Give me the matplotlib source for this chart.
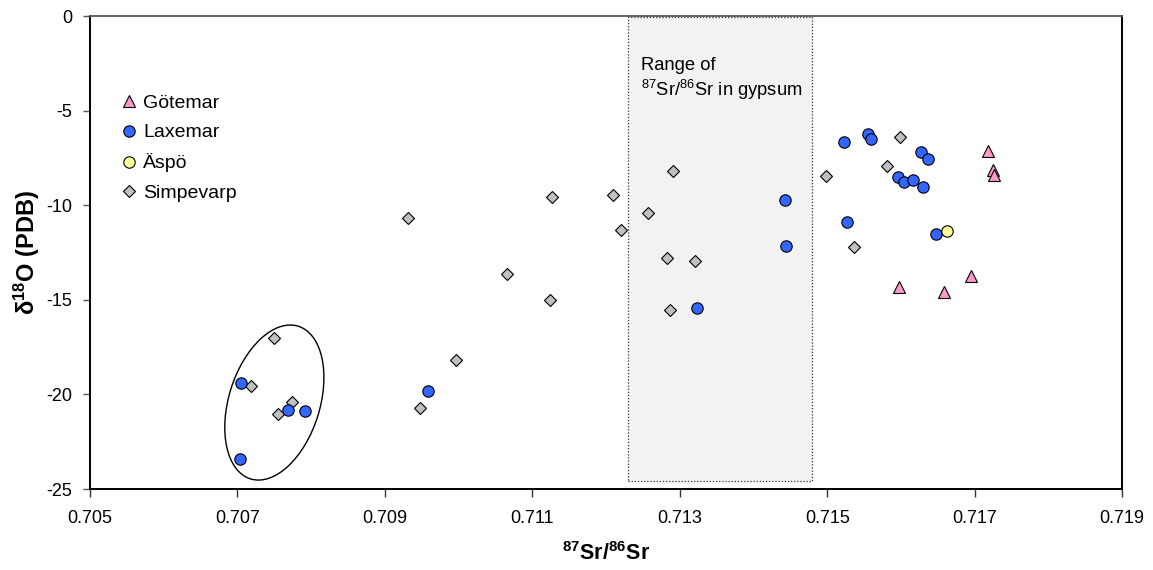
import matplotlib
matplotlib.use("Agg")
import matplotlib.pyplot as plt
import matplotlib.transforms as mtransforms
from matplotlib.patches import Ellipse, Rectangle
from matplotlib.ticker import FormatStrFormatter

plt.rcParams["font.family"] = ["Liberation Sans", "DejaVu Sans"]
plt.rcParams["mathtext.fontset"] = "custom"
plt.rcParams["mathtext.rm"] = "Liberation Sans"
plt.rcParams["mathtext.bf"] = "Liberation Sans:bold"
plt.rcParams["mathtext.it"] = "Liberation Sans:italic"
plt.rcParams["mathtext.default"] = "regular"
plt.rcParams["axes.unicode_minus"] = False

# data
gotemar_x = [0.71718, 0.71725, 0.71726, 0.71695, 0.71598, 0.71659]
gotemar_y = [-7.14, -8.14, -8.40, -13.73, -14.34, -14.60]

laxemar_x = [0.70705, 0.70768, 0.70791, 0.70704, 0.70958, 0.71324, 0.71443,
             0.71444, 0.71523, 0.71527, 0.71555, 0.71560, 0.71627, 0.71637,
             0.71596, 0.71604, 0.71616, 0.71630, 0.71647]
laxemar_y = [-19.38, -20.84, -20.90, -23.40, -19.82, -15.45, -9.73,
             -12.16, -6.67, -10.89, -6.24, -6.50, -7.21, -7.58,
             -8.51, -8.79, -8.69, -9.05, -11.50]

aspo_x = [0.71663]
aspo_y = [-11.38]

simpevarp_x = [0.70750, 0.70719, 0.70774, 0.70755, 0.70947, 0.70997, 0.70931,
               0.71127, 0.71066, 0.71124, 0.71210, 0.71220, 0.71291, 0.71257,
               0.71282, 0.71287, 0.71320, 0.71499, 0.71536, 0.71599, 0.71581]
simpevarp_y = [-17.02, -19.56, -20.39, -21.04, -20.72, -18.17, -10.69,
               -9.57, -13.62, -14.99, -9.44, -11.29, -8.18, -10.41,
               -12.77, -15.54, -12.97, -8.46, -12.19, -6.38, -7.93]

gypsum_x = (0.71230, 0.71480)
gypsum_y = (-24.6, -0.05)
cluster_center = (0.70750, -20.43)

x_ticks = [0.705, 0.707, 0.709, 0.711, 0.713, 0.715, 0.717, 0.719]
y_ticks = [0, -5, -10, -15, -20, -25]


def main():
    fig = plt.figure(figsize=(11.53, 5.70), dpi=100)
    ax = fig.add_axes([0.0781, 0.1421, 0.8951, 0.8298])
    ax.set_xlim(0.705, 0.719)
    ax.set_ylim(-25, 0)

    # gypsum range box
    ax.add_patch(Rectangle((gypsum_x[0], gypsum_y[0]), gypsum_x[1] - gypsum_x[0],
                           gypsum_y[1] - gypsum_y[0], facecolor="#f2f2f2",
                           edgecolor="#333333", linestyle=(0, (1, 1.5)),
                           linewidth=0.9, zorder=1))
    ax.text(0.71248, -2.85, "Range of", fontsize=13.2, va="baseline", zorder=2)
    ax.text(0.71248, -4.21, r"$^{87}$Sr/$^{86}$Sr in gypsum", fontsize=13.2,
            va="baseline", zorder=2)

    # ellipse around the low-Sr cluster, sized in inches
    trans = fig.dpi_scale_trans + mtransforms.ScaledTranslation(
        cluster_center[0], cluster_center[1], ax.transData)
    ax.add_patch(Ellipse((0, 0), 1.60, 0.91, angle=72.6, transform=trans,
                         fill=False, edgecolor="black", linewidth=1.0, zorder=2))

    mk = dict(linestyle="none", markeredgecolor="black", markeredgewidth=0.8)
    h_s, = ax.plot(simpevarp_x, simpevarp_y, marker="D", ms=6.2,
                   markerfacecolor="#c0c0c0", label="Simpevarp", zorder=3, **mk)
    h_l, = ax.plot(laxemar_x, laxemar_y, marker="o", ms=8.2,
                   markerfacecolor="#3366ff", label="Laxemar", zorder=4, **mk)
    h_a, = ax.plot(aspo_x, aspo_y, marker="o", ms=8.2,
                   markerfacecolor="#ffff99", label="Äspö", zorder=4, **mk)
    h_g, = ax.plot(gotemar_x, gotemar_y, marker="^", ms=8.5,
                   markerfacecolor="#ff99cc", label="Götemar", zorder=5, **mk)

    ax.legend(handles=[h_g, h_l, h_a, h_s], loc="upper left",
              bbox_to_anchor=(0.03, 0.835), frameon=False, fontsize=14,
              handlelength=0.8, handletextpad=0.35, labelspacing=0.62,
              borderaxespad=0, borderpad=0)

    ax.set_xticks(x_ticks)
    ax.set_yticks(y_ticks)
    ax.xaxis.set_major_formatter(FormatStrFormatter("%.3f"))
    ax.yaxis.set_major_formatter(FormatStrFormatter("%d"))
    ax.tick_params(axis="x", direction="out", length=6, width=1, pad=9,
                   labelsize=13, color="#333333")
    ax.tick_params(axis="y", direction="out", length=5, width=1, pad=8,
                   labelsize=13, color="#555555")

    for side in ("left", "bottom", "right"):
        ax.spines[side].set_linewidth(1.4)
        ax.spines[side].set_color("black")
    ax.spines["top"].set_linewidth(1.3)
    ax.spines["top"].set_color("#555555")

    ax.set_xlabel(r"$^{\mathbf{87}}$Sr/$^{\mathbf{86}}$Sr", fontsize=15.5,
                  fontweight="bold", labelpad=11)
    ax.set_ylabel(r"δ$^{\mathbf{18}}$O (PDB)", fontsize=17, fontweight="bold",
                  labelpad=3)

    fig.savefig("out.png", dpi=100)
    plt.close(fig)


if __name__ == "__main__":
    main()
